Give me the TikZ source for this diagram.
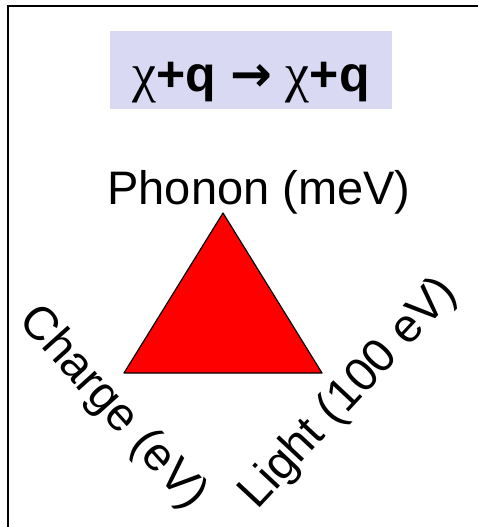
\documentclass[tikz,border=0pt]{standalone}
\usepackage{fontspec}
\setmainfont{Liberation Sans}
\newfontfamily\grk{Liberation Serif}
\newfontfamily\arrfont{DejaVu Sans}
\usepackage{xcolor}
\usepackage{tikz}
\usetikzlibrary{calc}
\definecolor{lav}{RGB}{217,217,243}
\definecolor{tri}{RGB}{255,0,0}
\tikzset{biglabel/.style={font=\fontsize{47}{52}\selectfont,inner sep=0pt}}

\begin{document}
\begin{tikzpicture}[x=1pt,y=-1pt]
  \useasboundingbox (0,0) rectangle (477,527);
  \draw[line width=2pt] (8,6) rectangle (500,560);
  \node[fill=lav,minimum width=282pt,inner sep=0pt,text height=60pt,text depth=18pt,font=\fontsize{50}{54}\selectfont\bfseries] (reac) at (251,70) {{\grk\mdseries\fontsize{54}{58}\selectfont χ}+q {\arrfont\bfseries →} {\grk\mdseries\fontsize{54}{58}\selectfont χ}+q};
  \coordinate (P) at (223,213); \coordinate (Q) at (124,373); \coordinate (L) at (322,373);
  \draw[fill=tri,line width=1.2pt,line join=round] (P)--(Q)--(L)--cycle;
  \node[biglabel] (phon) at (259,192) {Phonon (meV)};
  \node[biglabel,rotate=-48] (chg) at (112,408) {Charge (eV)};
  \node[biglabel,rotate=47] (lgt) at (349,394) {Light (100 eV)};
\end{tikzpicture}
\end{document}
